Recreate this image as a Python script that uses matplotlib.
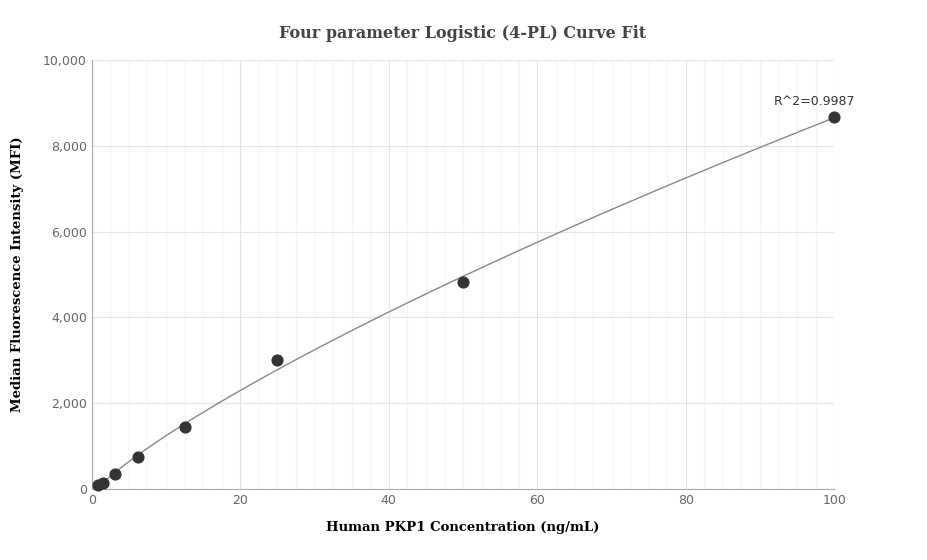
import numpy as np
import matplotlib
matplotlib.use("Agg")
import matplotlib.pyplot as plt
from matplotlib.ticker import MultipleLocator, FuncFormatter

conc = [0.78, 1.56, 3.125, 6.25, 12.5, 25, 50, 100]
mfi = [90, 130, 340, 740, 1440, 3000, 4820, 8680]
r2_label = "R^2=0.9987"

x = np.array(conc)
y = np.array(mfi)

# crude 4PL fit: grid over b, c; linear least squares for a, d
best = None
for b in np.linspace(0.6, 2.0, 71):
    for c in np.logspace(0.5, 3.5, 150):
        g = 1.0 / (1 + (x / c) ** b)
        A = np.column_stack([g, 1 - g])
        p, *_ = np.linalg.lstsq(A, y, rcond=None)
        err = np.sum((A @ p - y) ** 2)
        if best is None or err < best[0]:
            best = (err, b, c, p)
_, b, c, (a, d) = best
xf = np.linspace(0.78, 100, 400)
yf = d + (a - d) / (1 + (xf / c) ** b)

fig, ax = plt.subplots(figsize=(9.27, 5.6), dpi=100)
fig.subplots_adjust(left=0.099, right=0.9, top=0.893, bottom=0.127)
ax.plot(xf, yf, color="#888888", lw=1)
ax.scatter(x, y, s=60, color="#333333", zorder=3, clip_on=False)
ax.annotate(r2_label, (100, 8680), xytext=(-14, 6), textcoords="offset points",
            ha="center", va="bottom", fontsize=9, color="#333333")

ax.set_xlim(0, 100)
ax.set_ylim(0, 10000)
ax.xaxis.set_major_locator(MultipleLocator(20))
ax.xaxis.set_minor_locator(MultipleLocator(2.5))
ax.yaxis.set_major_locator(MultipleLocator(2000))
ax.yaxis.set_major_formatter(FuncFormatter(lambda v, p: f"{int(v):,}"))
ax.grid(which="major", color="#e0e6ee", lw=0.8)
ax.grid(which="minor", axis="x", color="#f2f4f8", lw=0.8)
ax.tick_params(which="both", length=0, labelsize=9, labelcolor="#666666")
for s in ["top", "right"]:
    ax.spines[s].set_visible(False)
ax.spines["left"].set_color("#aaaaaa")
ax.spines["bottom"].set_color("#aaaaaa")

ax.set_title("Four parameter Logistic (4-PL) Curve Fit", fontfamily="DejaVu Serif",
             fontweight="bold", fontsize=11.5, color="#444444", pad=16)
ax.set_xlabel("Human PKP1 Concentration (ng/mL)", fontfamily="DejaVu Serif",
              fontweight="bold", fontsize=9.5, labelpad=10)
ax.set_ylabel("Median Fluorescence Intensity (MFI)", fontfamily="DejaVu Serif",
              fontweight="bold", fontsize=9.5, labelpad=14)
fig.savefig("out.png")
